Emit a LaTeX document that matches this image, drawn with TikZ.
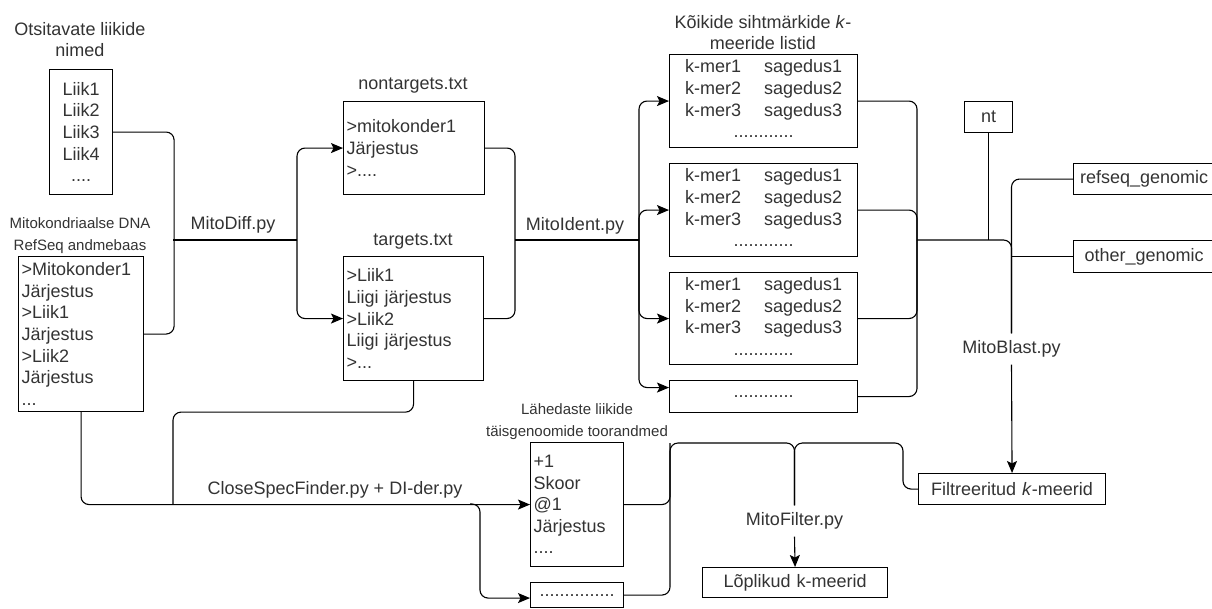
\documentclass[tikz,border=0pt]{standalone}
\usepackage{fontspec}
\setmainfont{Liberation Sans}
\usetikzlibrary{arrows.meta}
\definecolor{textcol}{RGB}{51,51,51}
\newcommand{\kmerlist}{\begin{tabular}{@{}l@{\hspace{23pt}}l@{}}k-mer1&sagedus1\\k-mer2&sagedus2\\k-mer3&sagedus3\\\multicolumn{2}{c}{............}\end{tabular}}
\begin{document}
\begin{tikzpicture}[x=1pt,y=-1pt,
  every node/.style={font=\fontsize{18}{21.6}\selectfont, text=textcol},
  box/.style={draw=black, line width=1.1pt, inner xsep=3pt, inner ysep=0pt, anchor=north west},
  conn/.style={line width=1.1pt, rounded corners=8pt},
  arr/.style={conn, -{Stealth[length=12pt,width=10pt,inset=2.5pt]}},
  smallfont/.style={font=\fontsize{15}{22}\selectfont},
  gap/.style={fill=white, inner xsep=2pt, inner ysep=7pt}]
\useasboundingbox (0,0) rectangle (1212,608);

% titles
\node[align=center] (liikT) at (80,39.5) {Otsitavate liikide\\nimed};
\node[smallfont, align=center] (mitoT) at (80,236) {Mitokondriaalse DNA\\RefSeq andmebaas};
\node (nontT) at (413,86) {nontargets.txt};
\node (targT) at (413,242) {targets.txt};
\node[align=center] (kT) at (763,32.5) {Kõikide sihtmärkide \textit{k}-\\meeride listid};
\node[smallfont, align=center] (closeT) at (577,422) {Lähedaste liikide\\täisgenoomide toorandmed};

% boxes
\node[box, text width=57pt, minimum height=125pt, align=center] (liik) at (49,69) {Liik1\\Liik2\\Liik3\\Liik4\\....};
\node[box, text width=119pt, minimum height=155pt, align=left] (mito) at (18,256) {>Mitokonder1\\Järjestus\\>Liik1\\Järjestus\\>Liik2\\Järjestus\\...};
\node[box, text width=135pt, minimum height=93pt, align=left] (nont) at (343,101) {>mitokonder1\\Järjestus\\>....};
\node[box, text width=134pt, minimum height=124pt, align=left] (targ) at (343,256) {>Liik1\\Liigi järjestus\\>Liik2\\Liigi järjestus\\>...};
\node[box, text width=182pt, minimum height=93pt, align=center] (k1) at (669,54) {\kmerlist};
\node[box, text width=182pt, minimum height=93pt, align=center] (k2) at (669,163) {\kmerlist};
\node[box, text width=182pt, minimum height=92pt, align=center] (k3) at (669,272) {\kmerlist};
\node[box, text width=182pt, minimum height=32pt, align=center] (k4) at (669,380) {............};
\node[box, text width=42pt, minimum height=31pt, align=center] (nt) at (964,101) {nt};
\node[box, text width=135pt, minimum height=31pt, align=center] (refseq) at (1073,163) {refseq\_genomic};
\node[box, text width=135pt, minimum height=32pt, align=center] (other) at (1073,240) {other\_genomic};
\node[box, text width=181pt, minimum height=31pt, align=center] (filt) at (918,473) {Filtreeritud \textit{k}-meerid};
\node[box, text width=179pt, minimum height=30pt, align=center] (lop) at (702,567) {Lõplikud k-meerid};
\node[box, text width=87pt, minimum height=124pt, align=left] (close) at (530,442) {+1\\Skoor\\@1\\Järjestus\\....};
\node[box, text width=87pt, minimum height=25pt, align=center] (small) at (530,582) {...............};

% labels
\node (mdiff) at (233,225) {MitoDiff.py};
\node (mident) at (575,226) {MitoIdent.py};
\node (cspec) at (335,490) {CloseSpecFinder.py + DI-der.py};
\node[gap] (mblast) at (1011.5,349) {MitoBlast.py};
\node[gap] (mfilt) at (794.5,521) {MitoFilter.py};

% junctions
\coordinate (j1) at (173,240);
\coordinate (j2) at (297,240);
\coordinate (j3) at (515,240);
\coordinate (j4) at (639,240);
\coordinate (j5) at (917,240);
\coordinate (j6) at (1011.5,240);
\coordinate (j7) at (173,504);
\coordinate (j8) at (480,504);
\coordinate (j9) at (794.5,443);
\coordinate (j10) at (670,443);

% connectors
\draw[conn] (liik.east) -- ++(61,0) |- (mito.east);
\draw[conn] (j1) -- (j2);
\draw[arr] (j2) |- (nont.west);
\draw[arr] (j2) |- (targ.west);
\draw[conn] (nont.east) -| (j3) |- (targ.east);
\draw[conn] (j3) -- (j4);
\draw[arr] (j4) |- (k1.west);
\draw[arr] (j4) |- (k2.west);
\draw[arr] (j4) |- (k3.west);
\draw[arr] (j4) |- ([yshift=9pt]k4.west);
\draw[conn] (k1.east) -| (j5);
\draw[conn] (k2.east) -| (j5);
\draw[conn] (k3.east) -| (j5);
\draw[conn] (k4.east) -| (j5);
\draw[conn] (j5) -- (j6) -- (mblast.north);
\draw[conn] (nt.south) -- (nt.south |- j5);
\draw[conn] (refseq.west) -| (mblast.north);
\draw[conn] (other.west) -- (other.west -| j6);
\draw[arr] (mblast.south) -- (filt.north);

\draw[conn] (targ.south) -- ++(0,31) -| (j7);
\draw[arr] (mito.south) |- (close.west);
\draw[arr] ([xshift=-10pt]j8) -- (j8) |- ([yshift=-3pt]small.west);
\draw[conn] (close.east) -| (j10) -- (j9) -- (mfilt.north);
\draw[conn] (small.east) -| (j10);
\draw[conn] (filt.west) -- ++(-15,0) |- (j9) -- (mfilt.north);
\draw[arr] (mfilt.south) -- (lop.north);
\end{tikzpicture}
\end{document}
